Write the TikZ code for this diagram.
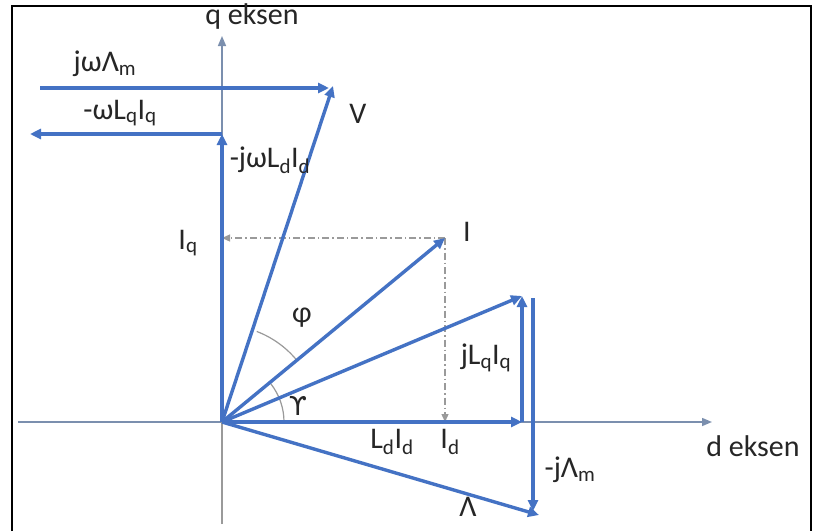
\documentclass[tikz,border=0pt]{standalone}
\usepackage{fontspec}
\setmainfont{Carlito}
\newfontfamily\dvsans{DejaVu Sans}
\usetikzlibrary{arrows.meta}
\definecolor{vecblue}{HTML}{4472C4}
\definecolor{axisblue}{HTML}{7B8FAE}
\definecolor{dashgray}{HTML}{9A9A9A}
\begin{document}
\begin{tikzpicture}[x=1pt,y=-1pt,
  vec/.style={draw=vecblue,line width=3.4pt,-{Triangle[length=11pt,width=10pt]}},
  axisline/.style={draw=axisblue,line width=1.5pt,-{Triangle[length=10pt,width=8pt]}},
  proj/.style={draw=dashgray,line width=1.3pt,dash pattern=on 7pt off 3pt on 1.5pt off 3pt,-{Triangle[length=8pt,width=7pt]}},
  arcline/.style={draw=dashgray,line width=1.2pt},
  lbl/.style={inner sep=0pt,font=\fontsize{30}{34}\selectfont,text=black!85}]
\useasboundingbox (0,0) rectangle (814,531);
\fill[white] (0,0) rectangle (814,531);
% frame
\draw[black,line width=2pt] (12,531) -- (12,6) -- (811,6) -- (811,531);
% coordinates
\coordinate (O) at (222,422);
\coordinate (dstart) at (18,422);
\coordinate (dend) at (712,422);
\coordinate (qstart) at (222,524);
\coordinate (qend) at (222,36);
\coordinate (Qtop) at (222,134);
\coordinate (Qleft) at (30,134);
\coordinate (Jstart) at (40,88);
\coordinate (Jend) at (329,88);
\coordinate (Vtip) at (333,86);
\coordinate (Itip) at (445,238);
\coordinate (Iq) at (222,238);
\coordinate (Id) at (445,422);
\coordinate (Ld) at (522,422);
\coordinate (Ls) at (522,296);
\coordinate (Mtop) at (533,298);
\coordinate (Mbot) at (533,511);
\coordinate (Lam) at (539,515);
% axes
\draw[axisline] (dstart) -- (dend);
\draw[draw=dashgray,line width=1.5pt] (qstart) -- (O);
\draw[axisline] (O) -- (qend);
% projections
\draw[proj] (Itip) -- (Iq);
\draw[proj] (Itip) -- (Id);
% angle arcs
\draw[arcline] (O) ++(-69:97) arc[start angle=-69,end angle=-40,radius=97];
\draw[arcline] (O) ++(-38:62) arc[start angle=-38,end angle=0,radius=62];
% vectors
\draw[vec] (O) -- (Qtop);
\draw[vec] (Qtop) -- (Qleft);
\draw[vec] (Jstart) -- (Jend);
\draw[vec] (O) -- (Vtip);
\draw[vec] (O) -- (Itip);
\draw[vec] (O) -- (Ld);
\draw[vec] (Ld) -- (Ls);
\draw[vec] (O) -- (Ls);
\draw[vec] (Mtop) -- (Mbot);
\draw[vec] (O) -- (Lam);
% labels
\node[lbl] (tq) at (252,16) {q eksen};
\node[lbl] (td) at (753,446) {d eksen};
\node[lbl] (tj) at (105,64) {jωΛ\textsubscript{m}};
\node[lbl] (tw) at (120,113) {-ωL\textsubscript{q}I\textsubscript{q}};
\node[lbl] (tv) at (358,114) {V};
\node[lbl] (tjw) at (270,160) {-jωL\textsubscript{d}I\textsubscript{d}};
\node[lbl] (ti) at (467,232) {I};
\node[lbl] (tiq) at (188,243) {I\textsubscript{q}};
\node[lbl] (tphi) at (302,318) {φ};
\node[lbl] (tgam) at (298,406) {\dvsans\fontsize{26}{30}\selectfont ϒ};
\node[lbl] (tjl) at (486,358) {jL\textsubscript{q}I\textsubscript{q}};
\node[lbl] (tld) at (392,442) {L\textsubscript{d}I\textsubscript{d}};
\node[lbl] (tid) at (450,442) {I\textsubscript{d}};
\node[lbl] (tjm) at (570,470) {-jΛ\textsubscript{m}};
\node[lbl] (tlam) at (468,507) {Λ};
\end{tikzpicture}
\end{document}
